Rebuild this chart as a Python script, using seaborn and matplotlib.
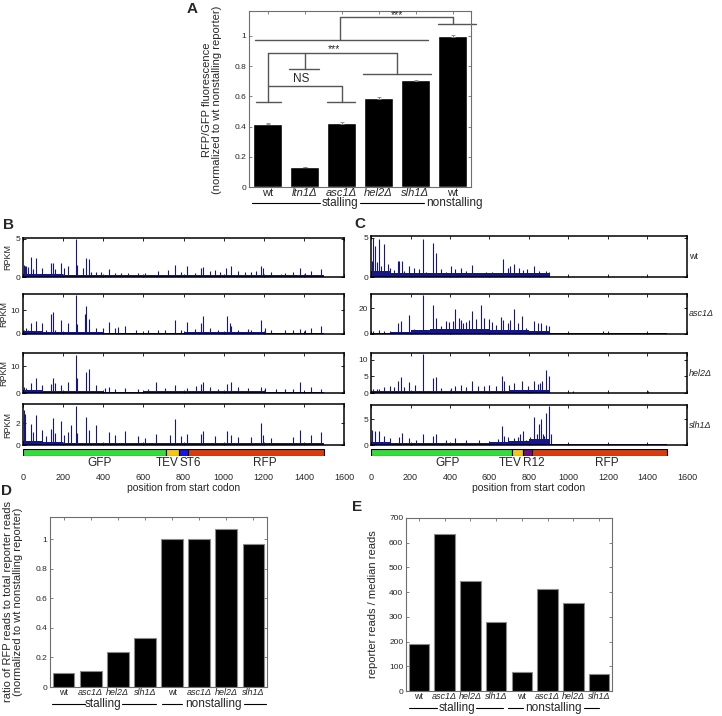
import numpy as np
import pandas as pd
import matplotlib
matplotlib.use("Agg")
import matplotlib.pyplot as plt
import seaborn as sns

sns.set_theme(style="white")
plt.rcParams['font.family'] = ['Liberation Sans', 'DejaVu Sans']

# ---------------- panel A: fluorescence ratios ----------------
a_labels = ['wt', 'ltn1Δ', 'asc1Δ', 'hel2Δ', 'slh1Δ', 'wt']
a_italic = [False, True, True, True, True, False]
a_values = [0.42, 0.13, 0.425, 0.59, 0.705, 1.0]
a_errors = [0.006, 0.0, 0.006, 0.008, 0.005, 0.005]

# ---------------- panels D and E ----------------
de_labels = ['wt', 'asc1Δ', 'hel2Δ', 'slh1Δ', 'wt', 'asc1Δ', 'hel2Δ', 'slh1Δ']
de_italic = [False, True, True, True, False, True, True, True]
d_values = [0.095, 0.11, 0.24, 0.33, 1.0, 1.0, 1.07, 0.965]
e_values = [190, 635, 445, 278, 78, 412, 358, 70]

# ---------------- reporter maps ----------------
b_gene_names = ['GFP', 'TEV', 'ST6', 'RFP']
b_gene_starts = [0, 713, 778, 822]
b_gene_ends = [713, 778, 822, 1500]
b_label_x = [384, 776, 780, 1206]
c_gene_names = ['GFP', 'TEV', 'R12', 'RFP']
c_gene_starts = [0, 713, 770, 815]
c_gene_ends = [713, 770, 815, 1500]
c_label_x = [390, 764, 772, 1195]
gene_colors = {'GFP': '#36dc3c', 'TEV': '#f4c61c', 'ST6': '#1616e6',
               'R12': '#6c1080', 'RFP': '#d93c10'}

# ---------------- ribosome profiles (position, RPKM) ----------------
# background level per 100 nt (0-1500)
b_wt_bg = [0.45, 0.35, 0.3, 0.25, 0.25, 0.25, 0.25, 0.25, 0.3, 0.3, 0.3, 0.3, 0.2, 0.2, 0.25]
b_asc1_bg = [1.2, 1.0, 0.8, 0.7, 0.6, 0.6, 0.6, 0.6, 0.7, 0.7, 0.7, 0.7, 0.5, 0.5, 0.6]
b_hel2_bg = [1.0, 0.9, 0.7, 0.6, 0.5, 0.5, 0.6, 0.6, 0.6, 0.6, 0.7, 0.6, 0.5, 0.5, 0.5]
b_slh1_bg = [0.35, 0.25, 0.2, 0.15, 0.15, 0.15, 0.15, 0.15, 0.18, 0.18, 0.2, 0.2, 0.15, 0.15, 0.15]
c_wt_bg = [0.8, 0.5, 0.5, 0.45, 0.45, 0.5, 0.5, 0.5, 0.45, 0.05, 0.05, 0.05, 0.05, 0.05, 0.05]
c_asc1_bg = [1.0, 1.5, 3.0, 3.5, 3.5, 3.5, 3.0, 3.0, 2.5, 0.4, 0.4, 0.4, 0.4, 0.4, 0.4]
c_hel2_bg = [0.6, 0.6, 0.5, 0.6, 0.7, 0.7, 0.7, 0.8, 0.9, 0.15, 0.15, 0.15, 0.15, 0.15, 0.15]
c_slh1_bg = [0.5, 0.4, 0.35, 0.3, 0.3, 0.35, 0.5, 0.7, 1.2, 0.1, 0.1, 0.1, 0.1, 0.1, 0.1]

b_wt_peaks = [(5, 1.6), (12, 1.4), (17, 1.5), (25, 1.3), (38, 2.6), (48, 1.0), (66, 2.5), (95, 1.2),
              (138, 1.8), (150, 1.8), (161, 1.0), (191, 1.8), (204, 1.2), (224, 1.4), (266, 5.0),
              (271, 1.6), (301, 1.2), (316, 2.5), (329, 2.3), (341, 0.6), (365, 0.65), (390, 0.6),
              (427, 1.0), (457, 0.55), (490, 0.55), (523, 0.5), (573, 0.5), (606, 0.5), (673, 0.8),
              (723, 0.9), (756, 1.6), (789, 0.6), (819, 1.4), (855, 0.5), (885, 1.2), (897, 1.3),
              (930, 0.8), (955, 0.9), (980, 0.7), (1013, 1.2), (1035, 1.4), (1071, 0.8), (1105, 0.7),
              (1138, 0.7), (1163, 0.8), (1184, 1.4), (1196, 1.2), (1238, 0.6), (1287, 0.35),
              (1304, 0.5), (1345, 0.7), (1382, 1.2), (1404, 0.5), (1437, 0.8), (1487, 1.1)]
b_asc1_peaks = [(5, 1.8), (17, 2.5), (25, 1.8), (38, 4.4), (66, 5.4), (95, 4.4), (116, 1.8), (138, 8.2),
                (150, 9.2), (161, 1.8), (191, 5.8), (224, 4.6), (266, 16.2), (271, 4.0), (307, 8.2),
                (316, 11.7), (329, 6.3), (365, 2.5), (399, 2.5), (427, 4.9), (457, 2.5), (473, 2.8),
                (507, 3.2), (565, 1.8), (623, 1.8), (673, 1.5), (706, 1.8), (756, 5.8), (789, 1.5),
                (819, 4.9), (855, 2.1), (885, 4.4), (897, 7.5), (930, 2.5), (972, 1.8), (1018, 7.5),
                (1030, 4.6), (1038, 3.2), (1071, 1.8), (1121, 2.1), (1138, 1.8), (1184, 5.8),
                (1204, 2.5), (1238, 1.5), (1304, 1.5), (1345, 1.8), (1379, 2.1), (1404, 1.8),
                (1437, 2.5), (1487, 3.2)]
b_hel2_peaks = [(5, 2.1), (17, 1.8), (38, 3.7), (66, 5.6), (95, 3.1), (138, 3.4), (150, 5.6), (161, 3.7),
                (191, 3.1), (224, 4.0), (266, 14.4), (271, 5.6), (316, 7.9), (329, 9.1), (365, 2.9),
                (407, 1.9), (427, 2.1), (457, 1.6), (507, 1.9), (573, 1.6), (623, 1.6), (664, 4.1),
                (706, 1.9), (756, 3.1), (819, 1.9), (864, 2.5), (885, 3.4), (897, 4.0), (930, 2.1),
                (972, 1.6), (1018, 3.4), (1038, 4.1), (1071, 2.1), (1121, 1.9), (1188, 2.1),
                (1204, 1.9), (1262, 1.4), (1304, 1.4), (1345, 1.6), (1382, 4.1), (1437, 2.1),
                (1487, 1.6)]
b_slh1_peaks = [(5, 3.2), (12, 2.8), (38, 1.9), (50, 1.2), (66, 2.75), (95, 1.4), (116, 0.8), (138, 1.5),
                (150, 2.45), (161, 1.1), (191, 2.15), (204, 0.9), (224, 1.2), (241, 1.85), (266, 3.6),
                (271, 1.1), (316, 2.55), (329, 1.4), (365, 1.85), (427, 1.2), (457, 0.9), (510, 1.25),
                (573, 0.8), (606, 0.65), (664, 1.0), (731, 0.9), (756, 2.4), (789, 0.8), (819, 1.0),
                (885, 1.0), (897, 1.25), (955, 0.8), (1018, 1.25), (1038, 0.9), (1071, 0.7),
                (1138, 0.7), (1184, 2.0), (1196, 0.9), (1238, 0.65), (1345, 0.7), (1382, 1.4),
                (1437, 0.9), (1487, 1.2)]
c_wt_peaks = [(5, 2.1), (12, 5.0), (22, 4.0), (29, 1.9), (42, 4.9), (51, 1.4), (68, 4.2), (84, 1.65),
              (96, 1.2), (118, 0.9), (135, 2.0), (143, 2.1), (157, 2.0), (169, 0.8), (194, 1.4),
              (219, 1.2), (245, 1.0), (265, 4.9), (278, 0.65), (312, 4.4), (329, 3.1), (354, 1.0),
              (380, 0.65), (405, 1.4), (427, 1.0), (456, 1.2), (481, 0.8), (511, 1.5), (540, 0.5),
              (582, 0.65), (613, 0.65), (641, 0.5), (667, 2.3), (692, 1.2), (704, 1.4), (726, 1.65),
              (751, 1.2), (768, 0.9), (790, 1.0), (827, 1.4), (852, 0.8), (886, 0.8), (900, 0.65)]
c_asc1_peaks = [(8, 2.6), (39, 2.9), (68, 2.6), (96, 2.6), (135, 8.6), (152, 9.9), (194, 15.0),
                (219, 3.9), (265, 29.9), (287, 3.4), (312, 22.0), (329, 12.5), (354, 6.0), (380, 9.9),
                (397, 9.1), (417, 9.9), (427, 19.0), (444, 12.5), (456, 10.6), (468, 8.6), (481, 9.1),
                (498, 10.6), (511, 17.7), (532, 11.2), (557, 22.0), (574, 12.5), (596, 11.7),
                (613, 9.1), (633, 7.3), (658, 13.2), (670, 10.6), (692, 8.6), (704, 10.6), (726, 19.5),
                (743, 8.6), (765, 13.8), (785, 4.7), (827, 9.9), (844, 8.6), (861, 8.6), (886, 7.3),
                (900, 6.0), (1176, 2.6)]
c_hel2_peaks = [(8, 1.2), (29, 1.2), (42, 1.2), (68, 1.9), (96, 2.2), (118, 1.9), (135, 3.5), (152, 4.8),
                (169, 1.9), (194, 3.3), (224, 2.4), (265, 11.9), (312, 4.5), (329, 4.8), (354, 1.4),
                (405, 1.4), (427, 2.1), (456, 2.4), (481, 1.9), (511, 3.5), (540, 2.1), (574, 2.1),
                (599, 2.4), (633, 2.1), (663, 5.2), (675, 3.5), (700, 2.4), (726, 2.9), (765, 3.5),
                (793, 2.1), (827, 3.5), (844, 2.6), (856, 2.9), (866, 3.5), (886, 7.1), (900, 5.0),
                (1021, 0.5), (1401, 0.7)]
c_slh1_peaks = [(5, 2.9), (22, 2.7), (39, 2.6), (68, 1.8), (96, 1.3), (143, 1.6), (157, 2.4), (194, 1.3),
                (228, 1.0), (265, 2.2), (312, 1.8), (329, 2.2), (380, 1.0), (427, 1.3), (481, 1.0),
                (549, 1.0), (599, 0.8), (641, 1.2), (663, 3.7), (675, 1.8), (692, 1.6), (726, 1.4),
                (743, 1.6), (754, 2.2), (768, 2.6), (785, 1.0), (805, 1.6), (827, 5.3), (839, 2.2),
                (852, 4.0), (861, 5.0), (869, 2.1), (878, 1.8), (886, 6.1), (900, 7.6), (911, 2.2)]

b_traces = [(b_wt_peaks, b_wt_bg, 5.1, [0, 5]),
            (b_asc1_peaks, b_asc1_bg, 16.7, [0, 10]),
            (b_hel2_peaks, b_hel2_bg, 15.0, [0, 10]),
            (b_slh1_peaks, b_slh1_bg, 3.75, [0, 2])]
c_traces = [(c_wt_peaks, c_wt_bg, 5.25, [0, 5]),
            (c_asc1_peaks, c_asc1_bg, 30.8, [0, 20]),
            (c_hel2_peaks, c_hel2_bg, 12.1, [0, 5, 10]),
            (c_slh1_peaks, c_slh1_bg, 7.7, [0, 5])]
c_strains = ['wt', 'asc1Δ', 'hel2Δ', 'slh1Δ']

navy = '#15158c'
gray = '#6e6e6e'
W, H = 722, 716


def rect(l, t, r, b):
    # pixel box -> figure fraction
    return [l / W, 1 - b / H, (r - l) / W, (b - t) / H]


def box_style(ax, color=gray, lw=0.8, size=6):
    for s in ax.spines.values():
        s.set_visible(True)
        s.set_color(color)
        s.set_linewidth(lw)
    ax.tick_params(direction='in', length=2.5, width=0.6, top=True, right=True,
                   bottom=True, left=True, color=color, labelsize=size, pad=2)


def group_labels(ax, y, lines, texts, size=8.5):
    for x0, x1 in lines:
        ax.plot([x0, x1], [y, y], color='black', lw=0.8, transform=ax.transAxes, clip_on=False)
    for txt, x, ha in texts:
        ax.text(x, y, txt, ha=ha, va='center', fontsize=size, transform=ax.transAxes)


def bar_panel(ax, labels, italic, values, **kw):
    df = pd.DataFrame({'pos': range(len(values)), 'val': values})
    sns.barplot(data=df, x='pos', y='val', color='black', saturation=1, width=0.8,
                errorbar=None, ax=ax, **kw)
    ax.set_xlabel('')
    ax.set_ylabel('')
    ax.set_xticks(range(len(labels)))
    ax.set_xticklabels(labels)
    for t, it in zip(ax.get_xticklabels(), italic):
        if it:
            t.set_style('italic')


fig = plt.figure(figsize=(W / 100, H / 100), dpi=100)

# ================= A =================
axA = fig.add_axes(rect(249, 11, 471, 187))
bar_panel(axA, a_labels, a_italic, a_values)
axA.errorbar(range(len(a_values)), a_values, yerr=a_errors, fmt='none',
             ecolor='#888888', elinewidth=0.8, capsize=1.5, capthick=0.6)
axA.set_xlim(-0.5, 5.5)
axA.set_ylim(0, 1.165)
axA.set_yticks([0, 0.2, 0.4, 0.6, 0.8, 1])
axA.set_yticklabels(['0', '0.2', '0.4', '0.6', '0.8', '1'])
box_style(axA)
axA.tick_params(axis='x', labelsize=8, pad=0.5)

# significance brackets
seg_h = [(-0.34, 4.34, 0.97), (1.96, 5.0, 1.126), (4.6, 5.64, 1.08),
         (0.0, 3.5, 0.888), (-0.31, 0.36, 0.56), (2.58, 4.42, 0.745),
         (0.58, 1.39, 0.78), (0.0, 2.0, 0.667), (1.6, 2.36, 0.56)]
seg_v = [(1.96, 0.97, 1.126), (5.0, 1.126, 1.08), (0.0, 0.56, 0.888),
         (3.5, 0.888, 0.745), (1.0, 0.888, 0.78), (2.0, 0.667, 0.56)]
for x0, x1, y in seg_h:
    axA.plot([x0, x1], [y, y], color='#555555', lw=1.0, clip_on=False)
for x, y0, y1 in seg_v:
    axA.plot([x, x], [y0, y1], color='#555555', lw=1.0, clip_on=False)
axA.text(3.5, 1.14, '***', ha='center', va='center', fontsize=7.5)
axA.text(1.8, 0.91, '***', ha='center', va='center', fontsize=7.5)
axA.text(0.9, 0.715, 'NS', ha='center', va='center', fontsize=8.5)

group_labels(axA, -0.09, [(0.014, 0.32), (0.5, 0.79)],
             [('stalling', 0.41, 'center'), ('nonstalling', 0.797, 'left')])
fig.text(212 / W, 1 - 100 / H,
         'RFP/GFP fluorescence\n(normalized to wt nonstalling reporter)',
         rotation=90, ha='center', va='center', fontsize=8, linespacing=1.1)

# ================= B and C =================
bg_edges = np.arange(0, 1501, 100)
rows_b = [(238, 277), (294, 334), (353, 393), (404, 445)]
rows_c = [(236, 277), (294, 334), (353, 393), (405, 445)]


def draw_trace(ax, peaks, bg, ymax, yticks):
    pos = [p for p, h in peaks]
    hts = [h for p, h in peaks]
    ax.stairs(bg, bg_edges, fill=True, color=navy, lw=0)
    ax.vlines(pos, 0, hts, color=navy, lw=0.8)
    ax.set_xlim(0, 1600)
    ax.set_ylim(0, ymax)
    ax.set_xticks(range(0, 1601, 200))
    ax.set_xticklabels([])
    ax.set_yticks(yticks)
    box_style(ax, color='black', lw=1.1)


def draw_gene(ax, names, starts, ends, label_x):
    for n, s, e in zip(names, starts, ends):
        ax.barh(0, e - s, left=s, height=1, color=gene_colors[n], edgecolor='black', lw=0.8)
    ax.set_xlim(0, 1600)
    ax.set_ylim(-0.5, 0.5)
    ax.set_yticks([])
    ax.set_xticks(range(0, 1601, 200))
    for s in ax.spines.values():
        s.set_visible(False)
    ax.tick_params(axis='x', length=0, labelsize=6.5, pad=12)
    has = ['center', 'right', 'left', 'center']
    for n, x, ha in zip(names, label_x, has):
        ax.text(x, -1.05, n, ha=ha, va='center', fontsize=8.5,
                transform=ax.get_xaxis_transform())
    ax.set_xlabel('position from start codon', fontsize=7.5, labelpad=1)


for (peaks, bg, ymax, yt), (t, b) in zip(b_traces, rows_b):
    ax = fig.add_axes(rect(23, t, 344, b))
    draw_trace(ax, peaks, bg, ymax, yt)
    ax.set_ylabel('RPKM', fontsize=6.5, labelpad=2)
draw_gene(fig.add_axes(rect(23, 449, 344, 456)), b_gene_names, b_gene_starts, b_gene_ends, b_label_x)

for (peaks, bg, ymax, yt), (t, b), name in zip(c_traces, rows_c, c_strains):
    ax = fig.add_axes(rect(371, t, 687, b))
    draw_trace(ax, peaks, bg, ymax, yt)
    fig.text(689 / W, 1 - (t + b) / 2 / H, name, ha='left', va='center', fontsize=6.5,
             style='normal' if name == 'wt' else 'italic')
draw_gene(fig.add_axes(rect(371, 449, 687, 456)), c_gene_names, c_gene_starts, c_gene_ends, c_label_x)

# ================= D =================
axD = fig.add_axes(rect(50, 517, 267, 687))
bar_panel(axD, de_labels, de_italic, d_values, edgecolor='#8a8a8a', linewidth=0.8)
axD.set_xlim(-0.5, 7.5)
axD.set_ylim(0, 1.15)
axD.set_yticks([0, 0.2, 0.4, 0.6, 0.8, 1])
axD.set_yticklabels(['0', '0.2', '0.4', '0.6', '0.8', '1'])
box_style(axD)
axD.tick_params(axis='x', labelsize=6.5, pad=1)
group_labels(axD, -0.1, [(0.009, 0.161), (0.332, 0.488), (0.516, 0.608), (0.894, 0.995)],
             [('stalling', 0.246, 'center'), ('nonstalling', 0.751, 'center')])
fig.text(13 / W, 1 - 602 / H,
         'ratio of RFP reads to total reporter reads\n(normalized to wt nonstalling reporter)',
         rotation=90, ha='center', va='center', fontsize=8, linespacing=1.1)

# ================= E =================
axE = fig.add_axes(rect(406, 518, 612, 691))
bar_panel(axE, de_labels, de_italic, e_values, edgecolor='#8a8a8a', linewidth=0.8)
axE.set_xlim(-0.5, 7.5)
axE.set_ylim(0, 700)
axE.set_yticks(range(0, 701, 100))
box_style(axE)
axE.tick_params(axis='x', labelsize=6.5, pad=1)
group_labels(axE, -0.098, [(0.015, 0.15), (0.34, 0.471), (0.495, 0.568), (0.864, 0.937)],
             [('stalling', 0.245, 'center'), ('nonstalling', 0.716, 'center')])
fig.text(373 / W, 1 - 604 / H, 'reporter reads / median reads',
         rotation=90, ha='center', va='center', fontsize=8)

# panel letters
for letter, x, y in [('A', 192, 9), ('B', 8, 225), ('C', 360, 224), ('D', 7, 491), ('E', 357, 507)]:
    fig.text(x / W, 1 - y / H, letter, ha='center', va='center', fontsize=11, fontweight='bold')

fig.savefig('out.png', dpi=100)
